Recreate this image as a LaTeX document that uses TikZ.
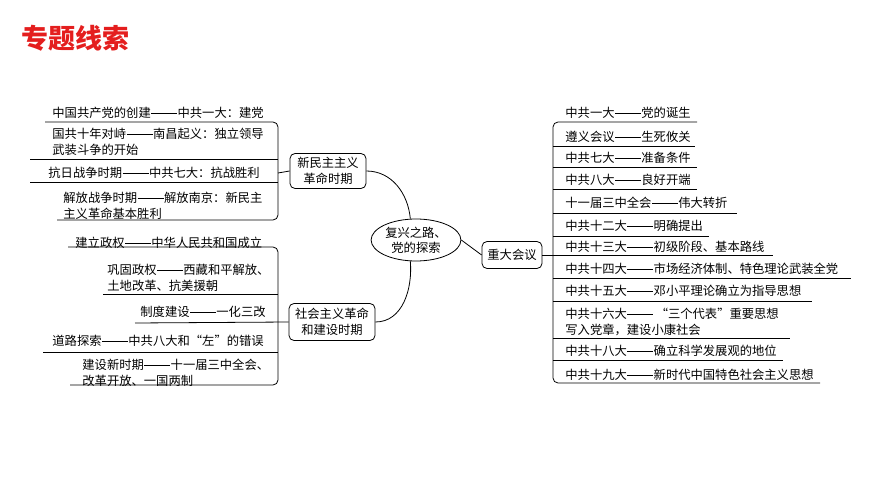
\documentclass[tikz,border=0pt]{standalone}
\usepackage{fontspec}
\setmainfont{Noto Sans CJK SC}
\usetikzlibrary{shapes.geometric}
\definecolor{titlered}{RGB}{228,30,30}
\newcommand\mydash{\hspace{0.5pt}\rule[0.33em]{2.1em}{0.6pt}\hspace{0.5pt}}
\begin{document}
\begin{tikzpicture}[x=1pt,y=-1pt,line width=0.8pt,
  txt/.style={anchor=west,inner sep=0pt,font=\fontsize{12.3}{16}\selectfont,align=left},
  boxn/.style={draw,rounded corners=5pt,align=center,font=\fontsize{12.3}{16}\selectfont,inner sep=3pt}]
\useasboundingbox (0,0) rectangle (870,489);
\node[anchor=west,inner sep=0pt,text=titlered,font=\fontsize{27}{30}\selectfont\bfseries] (title) at (21,38) {专题线索};
% center
\node[draw,ellipse,align=center,font=\fontsize{12.3}{15}\selectfont,inner sep=1pt,minimum width=68pt,minimum height=42pt] (c) at (416,240) {复兴之路、\\党的探索};
\node[boxn,minimum width=76pt,minimum height=35pt] (b1) at (328,171) {新民主主义\\革命时期};
\node[boxn,minimum width=86pt,minimum height=37pt] (b2) at (332,322) {社会主义革命\\和建设时期};
\node[boxn,minimum width=60pt,minimum height=27pt] (b3) at (512,255) {重大会议};
\draw (b1.east) to[out=0,in=95] (c.105);
\draw (c.255) to[out=-85,in=0] (b2.east);
\draw (c.east) -- (b3.west);
% left top
\node[txt] (l1) at (52,113) {中国共产党的创建\mydash 中共一大：建党};
\node[txt] (l2) at (52,142) {国共十年对峙\mydash 南昌起义：独立领导\\武装斗争的开始};
\node[txt] (l3) at (48,173) {抗日战争时期\mydash 中共七大：抗战胜利};
\node[txt] (l4) at (63,206) {解放战争时期\mydash 解放南京：新民主\\主义革命基本胜利};
\draw[rounded corners=5pt] (45,122) -- (278,122) -- (278,220) -- (57,220);
\draw (30,159) -- (278,159);
\draw (30,182) -- (278,182);
\draw (278,173) -- (b1.west);
% left bottom
\node[txt] (m1) at (75,243) {建立政权\mydash 中华人民共和国成立};
\node[txt] (m2) at (107,278) {巩固政权\mydash 西藏和平解放、\\土地改革、抗美援朝};
\node[txt] (m3) at (140,312) {制度建设\mydash 一化三改};
\node[txt] (m4) at (52,341) {道路探索\mydash 中共八大和“左”的错误};
\node[txt] (m5) at (82,373) {建设新时期\mydash 十一届三中全会、\\改革开放、一国两制};
\draw[rounded corners=5pt] (68,247) -- (278,247) -- (278,385) -- (70,385);
\draw (103,294) -- (278,294);
\draw (135,323) -- (b2.west);
\draw (43,352) -- (278,352);
% right
\node[txt] (r1) at (565,113) {中共一大\mydash 党的诞生};
\node[txt] (r2) at (565,137) {遵义会议\mydash 生死攸关};
\node[txt] (r3) at (565,158) {中共七大\mydash 准备条件};
\node[txt] (r4) at (565,180) {中共八大\mydash 良好开端};
\node[txt] (r5) at (565,203) {十一届三中全会\mydash 伟大转折};
\node[txt] (r6) at (565,226) {中共十二大\mydash 明确提出};
\node[txt] (r7) at (565,247) {中共十三大\mydash 初级阶段、基本路线};
\node[txt] (r8) at (565,269) {中共十四大\mydash 市场经济体制、特色理论武装全党};
\node[txt] (r9) at (565,291) {中共十五大\mydash 邓小平理论确立为指导思想};
\node[txt] (r10) at (565,322) {中共十六大\mydash\,“三个代表”重要思想\\写入党章，建设小康社会};
\node[txt] (r11) at (565,351) {中共十八大\mydash 确立科学发展观的地位};
\node[txt] (r12) at (565,375) {中共十九大\mydash 新时代中国特色社会主义思想};
\draw[rounded corners=5pt] (697,122) -- (553,122) -- (553,383) -- (820,383);
\draw (553,146) -- (695,146);
\draw (553,167) -- (697,167);
\draw (553,189) -- (697,189);
\draw (553,213) -- (737,213);
\draw (553,236) -- (709,236);
\draw (b3.east) -- (773,255);
\draw (553,278) -- (851,278);
\draw (553,301) -- (812,301);
\draw (553,338) -- (790,338);
\draw (553,360) -- (783,360);
\end{tikzpicture}
\end{document}
